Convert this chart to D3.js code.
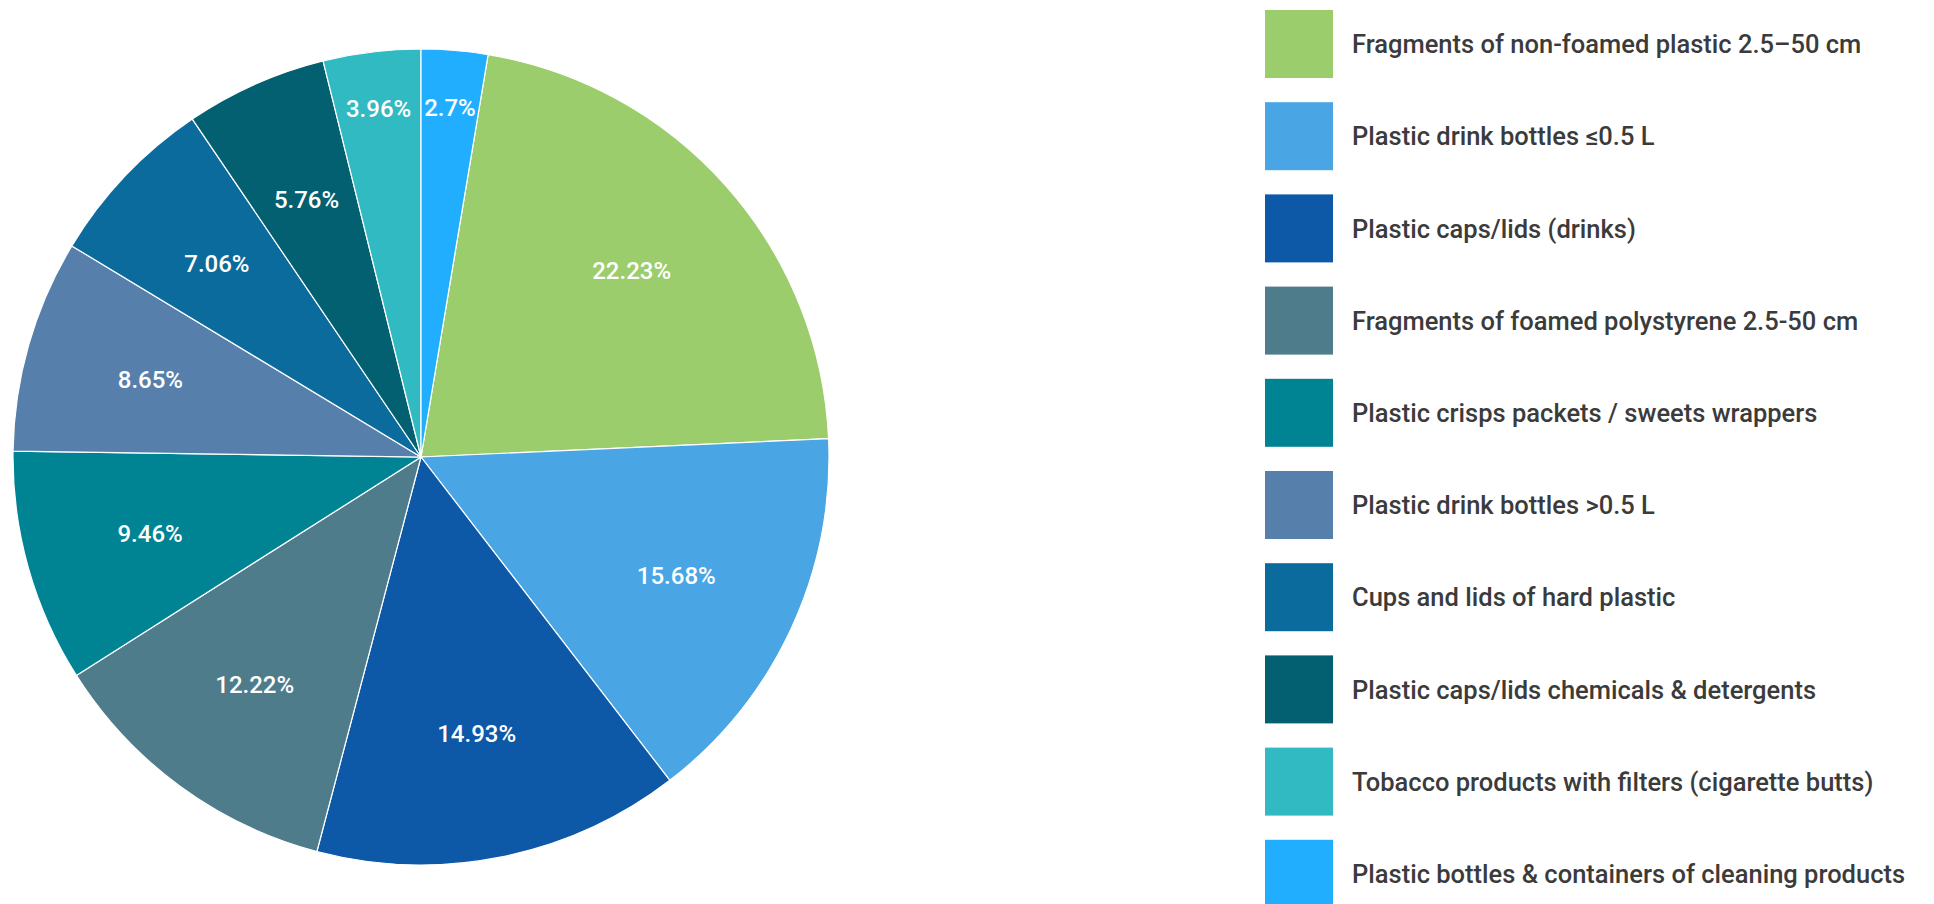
<!DOCTYPE html>
<html>
<head>
<meta charset="utf-8">
<script src="https://cdn.jsdelivr.net/npm/d3@7"></script>
<style>
  body { margin: 0; background: #fff; }
  svg { display: block; }
</style>
</head>
<body>
<svg id="chart"></svg>
<script>
const width = 1934;
const height = 904;

const categories = [
    "Fragments of non-foamed plastic 2.5\u201350 cm",
    "Plastic drink bottles \u22640.5 L",
    "Plastic caps/lids (drinks)",
    "Fragments of foamed polystyrene 2.5-50 cm",
    "Plastic crisps packets / sweets wrappers",
    "Plastic drink bottles >0.5 L",
    "Cups and lids of hard plastic",
    "Plastic caps/lids chemicals & detergents",
    "Tobacco products with filters (cigarette butts)",
    "Plastic bottles & containers of cleaning products"
];
const values = [22.23, 15.68, 14.93, 12.22, 9.46, 8.65, 7.06, 5.76, 3.96, 2.7];
const colors = ["#9ccd6c", "#49a5e3", "#0e58a8", "#4f7c8b", "#008494",
                "#5680ab", "#0b6b9d", "#036070", "#31bac1", "#22aeff"];

const svg = d3.select("#chart")
    .attr("width", width)
    .attr("height", height);

const cx = 421, cy = 457, radius = 408;

const color = d3.scaleOrdinal().domain(categories).range(colors);

const total = d3.sum(values);
// the last slice sits at twelve o'clock, the rest follow clockwise
const start = 2 * Math.PI * values[values.length - 1] / total;

const pie = d3.pie()
    .sort(null)
    .value(d => d.value)
    .startAngle(start)
    .endAngle(start + 2 * Math.PI);

const data = categories.map((c, i) => ({ name: c, value: values[i] }));
const arcs = pie(data);

const arc = d3.arc().innerRadius(0).outerRadius(radius);

const g = svg.append("g").attr("transform", `translate(${cx},${cy})`);

g.selectAll("path.slice")
    .data(arcs)
    .enter().append("path")
    .attr("class", "slice")
    .attr("d", arc)
    .attr("fill", d => color(d.data.name))
    .attr("stroke", "#fff")
    .attr("stroke-width", 1.2);

const labels = g.selectAll("text.pct")
    .data(arcs)
    .enter().append("text")
    .attr("class", "pct")
    .attr("text-anchor", "middle")
    .attr("dy", "0.36em")
    .style("font-family", "Roboto, sans-serif")
    .style("font-size", "24px")
    .style("font-weight", 500)
    .style("fill", "#fff")
    .text(d => d.data.value + "%");

// push labels of thin slices outwards until they fit between the edges
labels.attr("transform", function(d) {
    const w = this.getComputedTextLength();
    const half = (d.endAngle - d.startAngle) / 2;
    const fit = (w + 20) / (2 * Math.sin(half));
    const r = Math.max(radius * 0.69, Math.min(radius * 0.86, fit));
    const mid = (d.startAngle + d.endAngle) / 2;
    return `translate(${r * Math.sin(mid)},${-r * Math.cos(mid)})`;
});

// legend
const legendX = 1265, legendY = 10, step = 92.2, box = 68;

const legend = svg.append("g")
    .selectAll("g")
    .data(categories)
    .enter().append("g")
    .attr("transform", (d, i) => `translate(${legendX},${legendY + i * step})`);

legend.append("rect")
    .attr("width", box)
    .attr("height", box)
    .attr("fill", d => color(d));

legend.append("text")
    .attr("x", 87)
    .attr("y", box / 2)
    .attr("dy", "0.36em")
    .style("font-family", "Roboto, sans-serif")
    .style("font-size", "25.5px")
    .style("font-weight", 500)
    .style("fill", "#3b3b3b")
    .text(d => d);
</script>
</body>
</html>
